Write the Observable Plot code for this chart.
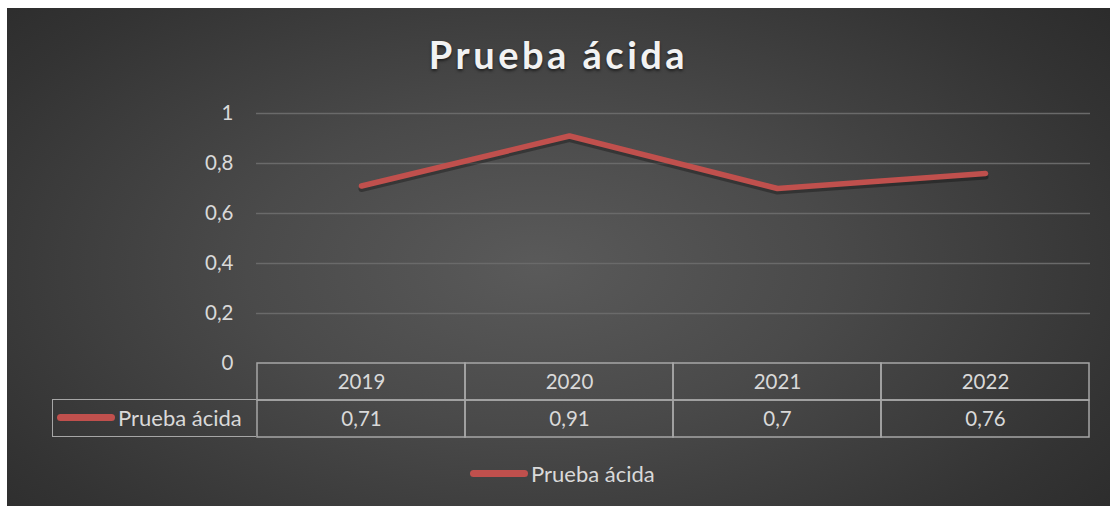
<!DOCTYPE html>
<html>
<head>
<meta charset="utf-8">
<script src="https://cdn.jsdelivr.net/npm/d3@7"></script>
<script src="https://cdn.jsdelivr.net/npm/@observablehq/plot@0.6"></script>
<style>
  html, body { margin: 0; padding: 0; background: #ffffff; }
  #page { position: relative; width: 1110px; height: 506px; overflow: hidden; font-family: Lato, "Open Sans", sans-serif; }
  #panel { position: absolute; left: 7px; top: 8px; width: 1103px; height: 498px;
    background: radial-gradient(ellipse 75% 90% at 48% 52%, #5a5a5a 0%, #4a4a4a 35%, #333333 75%, #272727 100%); }
  #title { position: absolute; left: 7px; width: 1103px; top: 35px; text-align: center; font-size: 38px; line-height: 1;
    font-weight: bold; letter-spacing: 3.5px; color: #f2f2f2; text-shadow: 0 2px 3px rgba(0,0,0,0.55); }
  .abs { position: absolute; }
  .swatch { position: absolute; height: 7px; border-radius: 4px; background: #c0504d; }
  .lbl { position: absolute; font-size: 22px; color: #d9d9d9; line-height: 1; white-space: nowrap; }
  #legcell { position: absolute; left: 52px; top: 399px; width: 204px; height: 38px; box-sizing: border-box;
    border: 1.5px solid #a6a6a6; border-right: none; }
</style>
</head>
<body>
<div id="page">
  <div id="panel"></div>
  <div id="title"></div>
  <div id="chart" class="abs" style="left:0;top:90px"></div>
  <div id="table" class="abs" style="left:0;top:361px"></div>
  <div id="legcell"></div>
  <div class="swatch" style="left:57px;top:414px;width:58px"></div>
  <div class="lbl" id="legcellText" style="left:118px;top:407px"></div>
  <div class="swatch" style="left:470px;top:470px;width:58px"></div>
  <div class="lbl" id="legText" style="left:531px;top:463px"></div>
</div>
<script>
const chartTitle = "Prueba ácida";
const seriesName = "Prueba ácida";
const years = ["2019", "2020", "2021", "2022"];
const values = [0.71, 0.91, 0.70, 0.76];
const yTicks = [0, 0.2, 0.4, 0.6, 0.8, 1];

const fmt = v => String(v).replace(".", ",");

document.getElementById("title").textContent = chartTitle;
document.getElementById("legcellText").textContent = seriesName;
document.getElementById("legText").textContent = seriesName;

const data = years.map((y, i) => ({year: y, value: values[i]}));

const chart = Plot.plot({
  width: 1110,
  height: 280,
  marginLeft: 256,
  marginRight: 20,
  marginTop: 23,
  marginBottom: 7,
  style: {background: "transparent", color: "#d9d9d9", fontSize: "20.5px", fontFamily: "Lato, 'Open Sans', sans-serif", overflow: "visible"},
  x: {type: "point", domain: years, padding: 0.5, axis: null},
  y: {domain: [0, 1], axis: null},
  marks: [
    Plot.ruleY(yTicks.filter(d => d > 0), {stroke: "#6a6a6a", strokeWidth: 1.3}),
    Plot.axisY(yTicks, {tickSize: 0, tickPadding: 23, tickFormat: fmt, label: null, fill: "#d9d9d9", fontSize: 20.5}),
    Plot.line(data, {x: "year", y: "value", stroke: "#000", strokeOpacity: 0.3, strokeWidth: 6, dy: 3, strokeLinecap: "round", strokeLinejoin: "round"}),
    Plot.line(data, {x: "year", y: "value", stroke: "#c0504d", strokeWidth: 5.5, strokeLinecap: "round", strokeLinejoin: "round"})
  ]
});
document.getElementById("chart").appendChild(chart);

const cells = [
  ...years.map(y => ({col: y, row: "year", text: y})),
  ...years.map((y, i) => ({col: y, row: "value", text: fmt(values[i])}))
];

const table = Plot.plot({
  width: 1110,
  height: 78,
  marginLeft: 256,
  marginRight: 20,
  marginTop: 2,
  marginBottom: 2,
  style: {background: "transparent", color: "#d9d9d9", fontSize: "20.5px", fontFamily: "Lato, 'Open Sans', sans-serif", overflow: "visible"},
  x: {type: "band", domain: years, padding: 0, axis: null},
  y: {type: "band", domain: ["year", "value"], padding: 0, axis: null},
  marks: [
    Plot.cell(cells, {x: "col", y: "row", fill: "none", stroke: "#a6a6a6", strokeWidth: 1.5, inset: 0}),
    Plot.text(cells, {x: "col", y: "row", text: "text", fill: "#d9d9d9", fontSize: 20.5})
  ]
});
document.getElementById("table").appendChild(table);
</script>
</body>
</html>
